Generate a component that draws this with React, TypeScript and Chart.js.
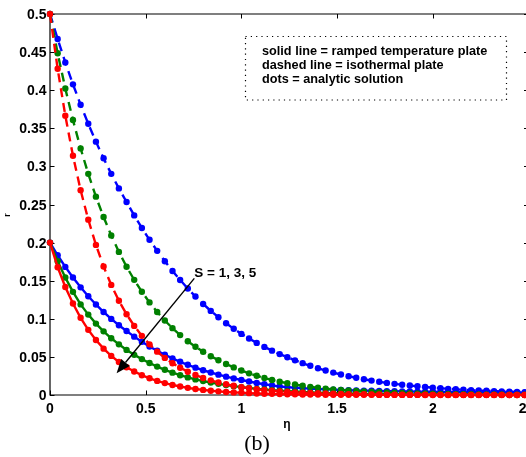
import React, { useEffect, useRef } from "react";
import { Chart, registerables } from "chart.js";

Chart.register(...registerables);

// ---- data ----
const eta = [0, 0.04, 0.08, 0.12, 0.16, 0.2, 0.24, 0.28, 0.32, 0.36, 0.4, 0.44, 0.48, 0.52, 0.56, 0.6, 0.64, 0.68, 0.72, 0.76, 0.8, 0.84, 0.88, 0.92, 0.96, 1, 1.04, 1.08, 1.12, 1.16, 1.2, 1.24, 1.28, 1.32, 1.36, 1.4, 1.44, 1.48, 1.52, 1.56, 1.6, 1.64, 1.68, 1.72, 1.76, 1.8, 1.84, 1.88, 1.92, 1.96, 2, 2.04, 2.08, 2.12, 2.16, 2.2, 2.24, 2.28, 2.32, 2.36, 2.4, 2.44, 2.48, 2.52];

// isothermal plate (dashed), S = 1, 3, 5
const blueDashed = [0.5, 0.4671, 0.4364, 0.4077, 0.3809, 0.3559, 0.3325, 0.3106, 0.2902, 0.2711, 0.2533, 0.2357, 0.2192, 0.2037, 0.1892, 0.1756, 0.1628, 0.1509, 0.1397, 0.1293, 0.1195, 0.1104, 0.102, 0.0942, 0.087, 0.0802, 0.0741, 0.0684, 0.0631, 0.0582, 0.0537, 0.0495, 0.0455, 0.0418, 0.0383, 0.0351, 0.0321, 0.0294, 0.0269, 0.0246, 0.0226, 0.0207, 0.0189, 0.0173, 0.0159, 0.0146, 0.0134, 0.0124, 0.0114, 0.0105, 0.0095, 0.0088, 0.0081, 0.0075, 0.0069, 0.0064, 0.0059, 0.0055, 0.0051, 0.0047, 0.0043, 0.004, 0.0037, 0.0034];
const greenDashed = [0.5, 0.4485, 0.4022, 0.3608, 0.3236, 0.2902, 0.2603, 0.2335, 0.2094, 0.1878, 0.1684, 0.1511, 0.1355, 0.1215, 0.109, 0.0978, 0.0877, 0.0786, 0.0705, 0.0633, 0.0567, 0.0509, 0.0457, 0.0407, 0.0362, 0.0321, 0.0284, 0.0252, 0.0223, 0.0197, 0.0174, 0.0154, 0.0137, 0.0121, 0.0107, 0.0095, 0.0084, 0.0074, 0.0066, 0.0059, 0.0052, 0.0047, 0.0042, 0.0037, 0.0033, 0.003, 0.0026, 0.0024, 0.0021, 0.0019, 0.0017, 0.0015, 0.0013, 0.0012, 0.0011, 0.0009, 0.0008, 0.0008, 0.0007, 0.0006, 0.0005, 0.0005, 0.0004, 0.0004];
const redDashed = [0.5, 0.4281, 0.3666, 0.3139, 0.2688, 0.2301, 0.197, 0.1687, 0.1445, 0.1237, 0.1059, 0.0907, 0.0776, 0.0665, 0.0569, 0.0487, 0.0417, 0.0357, 0.0306, 0.0262, 0.0224, 0.0192, 0.0165, 0.0141, 0.0121, 0.0103, 0.0088, 0.0076, 0.0065, 0.0056, 0.0048, 0.0041, 0.0035, 0.003, 0.0026, 0.0022, 0.0019, 0.0016, 0.0014, 0.0012, 0.001, 0.0009, 0.0007, 0.0006, 0.0005, 0.0005, 0.0004, 0.0003, 0.0003, 0.0003, 0.0002, 0.0002, 0.0002, 0.0001, 0.0001, 0.0001, 0.0001, 0.0001, 0.0001, 0.0001, 0, 0, 0, 0];

// ramped temperature plate (solid), S = 1, 3, 5
const blueSolid = [0.2, 0.1834, 0.1681, 0.1542, 0.1413, 0.1296, 0.1188, 0.1089, 0.0999, 0.0916, 0.084, 0.0766, 0.0699, 0.0637, 0.058, 0.0528, 0.048, 0.0436, 0.0396, 0.0359, 0.0325, 0.0295, 0.0267, 0.0241, 0.0218, 0.0197, 0.0177, 0.0158, 0.0141, 0.0126, 0.0112, 0.0104, 0.0096, 0.009, 0.0084, 0.0079, 0.0074, 0.007, 0.0066, 0.0063, 0.006, 0.0057, 0.0055, 0.0053, 0.0051, 0.0049, 0.0047, 0.0046, 0.0044, 0.0043, 0.0042, 0.0041, 0.004, 0.0039, 0.0038, 0.0037, 0.0036, 0.0035, 0.0034, 0.0033, 0.0032, 0.0031, 0.003, 0.0029];
const greenSolid = [0.2, 0.1756, 0.1542, 0.1354, 0.1189, 0.1055, 0.0937, 0.0835, 0.0744, 0.0665, 0.0592, 0.0527, 0.0471, 0.042, 0.0373, 0.0331, 0.0293, 0.026, 0.0231, 0.0205, 0.0183, 0.0164, 0.0147, 0.013, 0.0116, 0.0103, 0.0091, 0.0081, 0.0072, 0.0064, 0.0057, 0.005, 0.0045, 0.004, 0.0035, 0.0031, 0.0028, 0.0025, 0.0022, 0.0019, 0.0017, 0.0015, 0.0014, 0.0012, 0.0011, 0.001, 0.0009, 0.0008, 0.0007, 0.0006, 0.0005, 0.0005, 0.0004, 0.0004, 0.0003, 0.0003, 0.0003, 0.0002, 0.0002, 0.0002, 0.0002, 0.0001, 0.0001, 0.0001];
const redSolid = [0.2, 0.1677, 0.1418, 0.1201, 0.1013, 0.0855, 0.0721, 0.0608, 0.0513, 0.0433, 0.0365, 0.0308, 0.026, 0.0219, 0.0185, 0.0156, 0.0132, 0.0111, 0.0094, 0.0079, 0.0067, 0.0056, 0.0048, 0.004, 0.0034, 0.0029, 0.0024, 0.002, 0.0017, 0.0015, 0.0012, 0.001, 0.0009, 0.0007, 0.0006, 0.0005, 0.0004, 0.0004, 0.0003, 0.0003, 0.0002, 0.0002, 0.0002, 0.0001, 0.0001, 0.0001, 0.0001, 0.0001, 0.0001, 0, 0, 0, 0, 0, 0, 0, 0, 0, 0, 0, 0, 0, 0, 0];

const xTicks = [0, 0.5, 1, 1.5, 2, 2.5];
const xTickLabels = ["0", "0.5", "1", "1.5", "2", "2.5"];
const yTicks = [0, 0.05, 0.1, 0.15, 0.2, 0.25, 0.3, 0.35, 0.4, 0.45, 0.5];
const yTickLabels = ["0", "0.05", "0.1", "0.15", "0.2", "0.25", "0.3", "0.35", "0.4", "0.45", "0.5"];
const legendLines = [
  "solid line = ramped temperature plate",
  "dashed line = isothermal plate",
  "dots = analytic solution",
];
const arrowLabel = "S = 1, 3, 5";
const arrowFrom = { x: 0.754, y: 0.153 };
const arrowTo = { x: 0.348, y: 0.0285 };
const xTitle = "η";
const yTitle = "r";
const caption = "(b)";

const BLUE = "#0000ff";
const GREEN = "#008000";
const RED = "#ff0000";

const CW = 540;
const CH = 457;
const SANS = '"Liberation Sans", Arial, Helvetica, sans-serif';

export default function App() {
  const ref = useRef<HTMLCanvasElement | null>(null);

  useEffect(() => {
    if (!ref.current) return;
    const toPts = (vals: number[]) => eta.map((x, i) => ({ x, y: vals[i] }));
    const mk = (label: string, vals: number[], color: string, dashed: boolean, order: number) => ({
      label,
      data: toPts(vals),
      borderColor: color,
      backgroundColor: color,
      borderWidth: 2.4,
      borderDash: dashed ? [9, 6] : [],
      pointRadius: 3.2,
      pointHoverRadius: 3.2,
      pointBackgroundColor: color,
      pointBorderColor: color,
      pointBorderWidth: 0,
      tension: 0,
      fill: false,
      clip: false as any,
      order,
    });

    const framePlugin = {
      id: "frame",
      beforeDatasetsDraw(chart: any) {
        const ctx = chart.ctx;
        const a = chart.chartArea;
        const xs = chart.scales.x;
        const ys = chart.scales.y;
        ctx.save();
        ctx.strokeStyle = "#000";
        ctx.lineWidth = 1.2;
        ctx.beginPath();
        ctx.moveTo(a.left, a.top);
        ctx.lineTo(a.right, a.top);
        ctx.lineTo(a.right, a.bottom);
        ctx.lineTo(a.left, a.bottom);
        ctx.closePath();
        ctx.stroke();
        ctx.lineWidth = 1;
        ctx.beginPath();
        yTicks.forEach((v) => {
          const y = Math.round(ys.getPixelForValue(v)) + 0.5;
          ctx.moveTo(a.left, y);
          ctx.lineTo(a.left + 4.5, y);
          ctx.moveTo(a.right, y);
          ctx.lineTo(a.right - 4.5, y);
        });
        xTicks.forEach((v) => {
          const x = Math.round(xs.getPixelForValue(v)) + 0.5;
          ctx.moveTo(x, a.bottom);
          ctx.lineTo(x, a.bottom - 4.5);
          ctx.moveTo(x, a.top);
          ctx.lineTo(x, a.top + 4.5);
        });
        ctx.stroke();
        ctx.restore();
      },
      afterDraw(chart: any) {
        const ctx = chart.ctx;
        const a = chart.chartArea;
        const xs = chart.scales.x;
        const ys = chart.scales.y;
        ctx.save();
        ctx.fillStyle = "#000";
        ctx.strokeStyle = "#000";

        // tick labels
        ctx.font = `bold 14px ${SANS}`;
        ctx.textBaseline = "alphabetic";
        ctx.textAlign = "right";
        yTicks.forEach((v, i) => {
          ctx.fillText(yTickLabels[i], a.left - 3.5, ys.getPixelForValue(v) + 5);
        });
        ctx.textAlign = "center";
        xTicks.forEach((v, i) => {
          ctx.fillText(xTickLabels[i], xs.getPixelForValue(v), a.bottom + 18);
        });

        // axis titles
        ctx.font = `bold 12px ${SANS}`;
        ctx.fillText(xTitle, 287, 428);
        ctx.save();
        ctx.translate(10, 215);
        ctx.rotate(-Math.PI / 2);
        ctx.font = `bold 9px ${SANS}`;
        ctx.fillText(yTitle, 0, 0);
        ctx.restore();

        // caption
        ctx.font = `22px "Liberation Serif", "Times New Roman", serif`;
        ctx.fillText(caption, 257, 450);

        // legend box
        ctx.save();
        ctx.lineWidth = 1.2;
        ctx.setLineDash([1.2, 4.1]);
        ctx.strokeRect(245.5, 36.5, 261, 63.5);
        ctx.restore();
        ctx.textAlign = "left";
        ctx.font = `bold 12.7px ${SANS}`;
        legendLines.forEach((t, i) => {
          ctx.fillText(t, 262, 55 + i * 14.2);
        });

        // arrow
        const x0 = xs.getPixelForValue(arrowFrom.x);
        const y0 = ys.getPixelForValue(arrowFrom.y);
        const x1 = xs.getPixelForValue(arrowTo.x);
        const y1 = ys.getPixelForValue(arrowTo.y);
        const ang = Math.atan2(y1 - y0, x1 - x0);
        const hl = 14;
        const hw = 5.5;
        const bx = x1 - hl * Math.cos(ang);
        const by = y1 - hl * Math.sin(ang);
        ctx.lineWidth = 1.4;
        ctx.beginPath();
        ctx.moveTo(x0, y0);
        ctx.lineTo(bx, by);
        ctx.stroke();
        ctx.beginPath();
        ctx.moveTo(x1, y1);
        ctx.lineTo(bx + hw * Math.sin(ang), by - hw * Math.cos(ang));
        ctx.lineTo(bx - hw * Math.sin(ang), by + hw * Math.cos(ang));
        ctx.closePath();
        ctx.fill();

        ctx.font = `bold 13.5px ${SANS}`;
        ctx.fillText(arrowLabel, x0, y0 - 1.6);
        ctx.restore();
      },
    };

    const chart = new Chart(ref.current, {
      type: "line",
      data: {
        datasets: [
          mk("S=5 ramped", redSolid, RED, false, 1),
          mk("S=5 isothermal", redDashed, RED, true, 2),
          mk("S=3 ramped", greenSolid, GREEN, false, 3),
          mk("S=3 isothermal", greenDashed, GREEN, true, 4),
          mk("S=1 ramped", blueSolid, BLUE, false, 5),
          mk("S=1 isothermal", blueDashed, BLUE, true, 6),
        ] as any,
      },
      options: {
        animation: false,
        responsive: false,
        events: [],
        layout: { padding: { left: 50, top: 14, right: CW - 528.5, bottom: CH - 395 } },
        plugins: { legend: { display: false }, tooltip: { enabled: false } },
        scales: {
          x: { type: "linear", display: false, min: 0, max: 2.5 },
          y: { type: "linear", display: false, min: 0, max: 0.5 },
        },
      },
      plugins: [framePlugin],
    });
    return () => chart.destroy();
  }, []);

  return (
    <div
      style={{
        position: "fixed",
        left: 0,
        top: 0,
        width: 526,
        height: 457,
        overflow: "hidden",
        background: "#fff",
      }}
    >
      <canvas ref={ref} width={CW} height={CH} style={{ display: "block" }} />
    </div>
  );
}
